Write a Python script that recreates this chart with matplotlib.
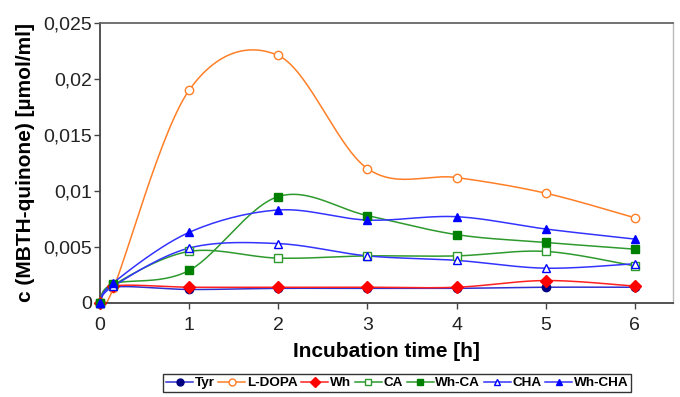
import matplotlib.pyplot as plt
import numpy as np

plt.rcParams['font.family'] = ['Liberation Sans', 'DejaVu Sans']

# incubation time [h]
time_h = [0, 0.15, 1, 2, 3, 4, 5, 6]

tyr = [0, 0.0014, 0.0012, 0.0013, 0.0013, 0.0013, 0.0014, 0.0014]
l_dopa = [0, 0.0013, 0.0190, 0.0221, 0.0120, 0.0112, 0.0098, 0.0076]
wh = [0, 0.0015, 0.0014, 0.0014, 0.0014, 0.0014, 0.0020, 0.0015]
ca = [0, 0.0016, 0.0046, 0.0040, 0.0042, 0.0042, 0.0046, 0.0033]
wh_ca = [0, 0.0017, 0.0029, 0.0095, 0.0078, 0.0061, 0.0054, 0.0048]
cha = [0, 0.0015, 0.0049, 0.0053, 0.0042, 0.0038, 0.0031, 0.0035]
wh_cha = [0, 0.0018, 0.0063, 0.0083, 0.0074, 0.0077, 0.0066, 0.0057]

yticks = [0, 0.005, 0.01, 0.015, 0.02, 0.025]
ytick_labels = ["0", "0,005", "0,01", "0,015", "0,02", "0,025"]

# name, values, line colour, marker, marker face, marker edge
series = [
    ("Tyr", tyr, "#3030d0", "o", "#000080", "#000080"),
    ("L-DOPA", l_dopa, "#ff7f27", "o", "white", "#ff7f27"),
    ("Wh", wh, "#ff2020", "D", "#ff0000", "#ff0000"),
    ("CA", ca, "#2e9a2e", "s", "white", "#2e9a2e"),
    ("Wh-CA", wh_ca, "#2e9a2e", "s", "#008000", "#008000"),
    ("CHA", cha, "#3333ff", "^", "white", "#0000ff"),
    ("Wh-CHA", wh_cha, "#3333ff", "^", "#0000ff", "#0000ff"),
]


def smooth(x, y, n=30):
    # Excel-style smoothed line: Catmull-Rom bezier segments
    p = np.column_stack([x, y]).astype(float)
    pts = [p[0]]
    for i in range(len(p) - 1):
        p0 = p[i - 1] if i > 0 else p[i]
        p1, p2 = p[i], p[i + 1]
        p3 = p[i + 2] if i + 2 < len(p) else p[i + 1]
        c1 = p1 + (p2 - p0) / 6
        c2 = p2 - (p3 - p1) / 6
        t = np.linspace(0, 1, n)[1:, None]
        seg = ((1 - t) ** 3) * p1 + 3 * ((1 - t) ** 2) * t * c1 + 3 * (1 - t) * t ** 2 * c2 + t ** 3 * p2
        pts.extend(seg)
    pts = np.array(pts)
    return pts[:, 0], pts[:, 1]


fig = plt.figure(figsize=(6.8, 3.97), dpi=100)
ax = fig.add_axes([0.147, 0.237, 0.843, 0.705])

handles = []
for name, vals, lc, mk, mfc, mec in series:
    sx, sy = smooth(time_h, vals)
    ax.plot(sx, sy, color=lc, lw=1.1, zorder=2)
    ax.plot(time_h, vals, ls="none", marker=mk, ms=6, mfc=mfc, mec=mec,
            mew=1.0, zorder=3, clip_on=False)
    h, = ax.plot([], [], color=lc, lw=1.1, marker=mk, ms=5, mfc=mfc, mec=mec, mew=1.0)
    h.set_label(name)
    handles.append(h)

ax.set_xlim(0, 6.43)
ax.set_ylim(0, 0.025)
ax.set_xticks(range(7))
ax.set_yticks(yticks)
ax.set_yticklabels(ytick_labels)
ax.tick_params(axis="both", labelsize=14, length=4, width=1, color="#444444", colors="#222222")
ax.tick_params(axis="x", pad=6)
ax.tick_params(axis="y", pad=2)

for s in ["left", "bottom"]:
    ax.spines[s].set_color("#444444")
    ax.spines[s].set_linewidth(1.3)
ax.spines["top"].set_color("#666666")
ax.spines["top"].set_linewidth(1.3)
ax.spines["right"].set_color("#bbbbbb")
ax.spines["right"].set_linewidth(1.0)

ax.set_xlabel("Incubation time [h]", fontsize=15, fontweight="bold", labelpad=6)
ax.set_ylabel("c (MBTH-quinone) [µmol/ml]", fontsize=15, fontweight="bold", labelpad=6)

leg = fig.legend(handles=handles, loc="center", bbox_to_anchor=(0.584, 0.035), ncol=7,
                 frameon=True, fancybox=False, edgecolor="black",
                 handlelength=2.0, handletextpad=0.1, columnspacing=0.3,
                 borderpad=0.2, borderaxespad=0, prop={"weight": "bold", "size": 9.7})
leg.get_frame().set_linewidth(1.0)

fig.savefig("out.png", dpi=100)
